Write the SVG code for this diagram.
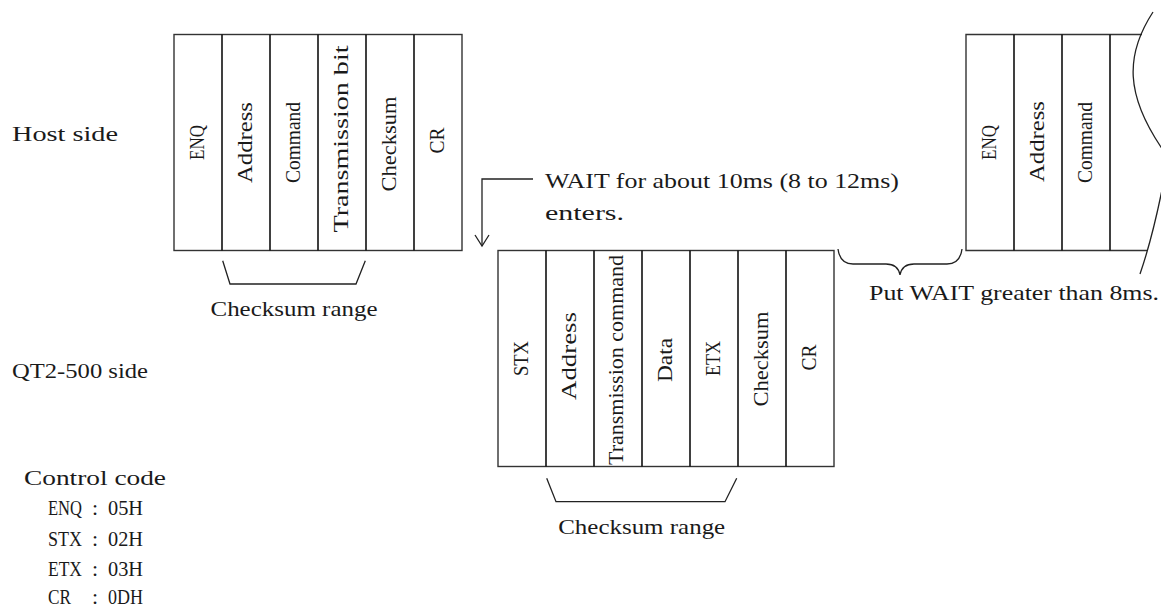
<svg xmlns="http://www.w3.org/2000/svg" width="1161" height="610" viewBox="0 0 1161 610">
  <style>
    .frame { fill: none; stroke: #333; stroke-width: 1.4; }
    .div { fill: none; stroke: #111; stroke-width: 1.6; }
    .ln { fill: none; stroke: #222; stroke-width: 1.3; }
    text { font-family: "Liberation Serif", "Noto Sans CJK JP", serif; font-size: 22px; fill: #1a1a1a; }
    .v { text-anchor: middle; }
    .c { text-anchor: middle; }
  </style>

  <!-- side captions -->
  <g id="label-host">
    <text x="12" y="141" textLength="106" lengthAdjust="spacingAndGlyphs">Host side</text>
  </g>
  <g id="label-qt2">
    <text x="12" y="378" textLength="136" lengthAdjust="spacingAndGlyphs">QT2-500 side</text>
  </g>

  <!-- host request frame -->
  <g id="host-frame">
    <rect class="frame" x="174" y="34.5" width="288" height="216"/>
    <path class="div" d="M222,34.5V250.5M270,34.5V250.5M318,34.5V250.5M366,34.5V250.5M414,34.5V250.5"/>
    <text class="v" transform="translate(204,142.5) rotate(-90)" textLength="35" lengthAdjust="spacingAndGlyphs">ENQ</text>
    <text class="v" transform="translate(252,142.5) rotate(-90)" textLength="81" lengthAdjust="spacingAndGlyphs">Address</text>
    <text class="v" transform="translate(300,142.5) rotate(-90)" textLength="81" lengthAdjust="spacingAndGlyphs">Command</text>
    <text class="v" transform="translate(348,139) rotate(-90)" textLength="187" lengthAdjust="spacingAndGlyphs">Transmission bit</text>
    <text class="v" transform="translate(396,144) rotate(-90)" textLength="95" lengthAdjust="spacingAndGlyphs">Checksum</text>
    <text class="v" transform="translate(444,140.5) rotate(-90)" textLength="26" lengthAdjust="spacingAndGlyphs">CR</text>
  </g>

  <!-- QT2-500 response frame -->
  <g id="qt2-frame">
    <rect class="frame" x="498" y="250.5" width="336" height="216"/>
    <path class="div" d="M546,250.5V466.5M594,250.5V466.5M642,250.5V466.5M690,250.5V466.5M738,250.5V466.5M786,250.5V466.5"/>
    <text class="v" transform="translate(528,358.5) rotate(-90)" textLength="35" lengthAdjust="spacingAndGlyphs">STX</text>
    <text class="v" transform="translate(576,356) rotate(-90)" textLength="88" lengthAdjust="spacingAndGlyphs">Address</text>
    <text class="v" transform="translate(623,360) rotate(-90)" style="font-size:21px" textLength="210" lengthAdjust="spacingAndGlyphs">Transmission command</text>
    <text class="v" transform="translate(672,360) rotate(-90)" textLength="44" lengthAdjust="spacingAndGlyphs">Data</text>
    <text class="v" transform="translate(720,358.5) rotate(-90)" textLength="35" lengthAdjust="spacingAndGlyphs">ETX</text>
    <text class="v" transform="translate(768,359) rotate(-90)" textLength="95" lengthAdjust="spacingAndGlyphs">Checksum</text>
    <text class="v" transform="translate(816,357.5) rotate(-90)" textLength="26" lengthAdjust="spacingAndGlyphs">CR</text>
  </g>

  <!-- next host request frame, cut by a break mark -->
  <g id="next-frame">
    <path class="frame" d="M1142,34.5H966V250.5H1147"/>
    <path class="div" d="M1014,34.5V250.5M1062,34.5V250.5M1110,34.5V250.5"/>
    <path class="ln" d="M1153,12C1125,55 1125,95 1163,150M1163,185C1156,220 1149,248 1140,274"/>
    <text class="v" transform="translate(996,142.5) rotate(-90)" textLength="35" lengthAdjust="spacingAndGlyphs">ENQ</text>
    <text class="v" transform="translate(1044,141.5) rotate(-90)" textLength="81" lengthAdjust="spacingAndGlyphs">Address</text>
    <text class="v" transform="translate(1092,142.5) rotate(-90)" textLength="81" lengthAdjust="spacingAndGlyphs">Command</text>
  </g>

  <!-- timing notes -->
  <g id="note-wait">
    <text x="545" y="188" textLength="354" lengthAdjust="spacingAndGlyphs">WAIT for about 10ms (8 to 12ms)</text>
    <text x="545" y="220" textLength="79" lengthAdjust="spacingAndGlyphs">enters.</text>
  </g>
  <g id="note-gap">
    <text x="869" y="300" textLength="290" lengthAdjust="spacingAndGlyphs">Put WAIT greater than 8ms.</text>
  </g>

  <!-- checksum range captions -->
  <g id="range-host">
    <text class="c" x="294" y="316" textLength="167" lengthAdjust="spacingAndGlyphs">Checksum range</text>
  </g>
  <g id="range-qt2">
    <text class="c" x="641.7" y="534" textLength="167" lengthAdjust="spacingAndGlyphs">Checksum range</text>
  </g>

  <!-- control code table: name, colon, hex value in fixed columns -->
  <g id="control-codes">
    <text x="24" y="485" textLength="142" lengthAdjust="spacingAndGlyphs">Control code</text>
    <g id="code-enq">
      <text x="48" y="515" textLength="34" lengthAdjust="spacingAndGlyphs">ENQ</text>
      <text x="95" y="515" class="c">:</text>
      <text x="108" y="515" textLength="35" lengthAdjust="spacingAndGlyphs">05H</text>
    </g>
    <g id="code-stx">
      <text x="48" y="545.5" textLength="34" lengthAdjust="spacingAndGlyphs">STX</text>
      <text x="95" y="545.5" class="c">:</text>
      <text x="108" y="545.5" textLength="35" lengthAdjust="spacingAndGlyphs">02H</text>
    </g>
    <g id="code-etx">
      <text x="48" y="575.5" textLength="34" lengthAdjust="spacingAndGlyphs">ETX</text>
      <text x="95" y="575.5" class="c">:</text>
      <text x="108" y="575.5" textLength="35" lengthAdjust="spacingAndGlyphs">03H</text>
    </g>
    <g id="code-cr">
      <text x="48" y="604" textLength="23" lengthAdjust="spacingAndGlyphs">CR</text>
      <text x="95" y="604" class="c">:</text>
      <text x="108" y="604" textLength="35" lengthAdjust="spacingAndGlyphs">0DH</text>
    </g>
  </g>

  <!-- connectors -->
  <g id="connectors">
    <!-- wait arrow -->
    <path class="ln" d="M533,179H482V246"/>
    <path class="ln" d="M475,235L482,246L489,235"/>
    <!-- checksum brackets -->
    <path class="ln" d="M222.7,260.7L230,284H356L365.3,260.7"/>
    <path class="ln" d="M546.7,478.3L556,501.7H725L736.7,478.3"/>
    <!-- gap brace -->
    <path class="ln" d="M838,249Q840,264 853,264H886Q898,264 900,275Q902,264 914,264H947Q960,264 962,249"/>
  </g>
</svg>
